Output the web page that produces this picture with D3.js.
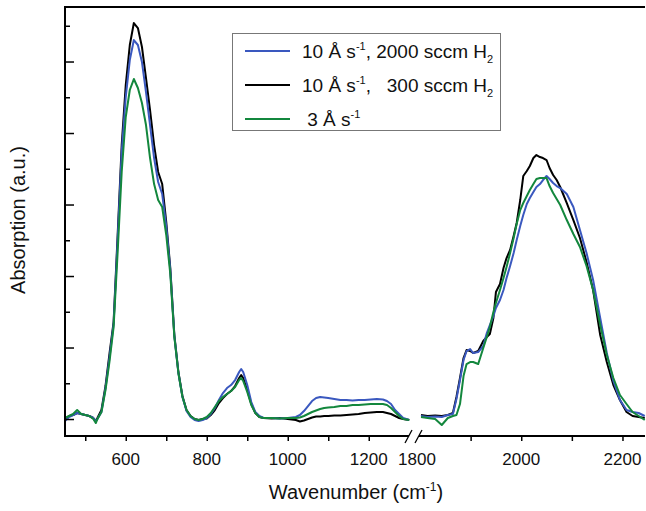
<!DOCTYPE html>
<html>
<head>
<meta charset="utf-8">
<script src="https://cdn.jsdelivr.net/npm/d3@7"></script>
<style>
  html, body { margin: 0; padding: 0; background: #fff; }
  svg { display: block; font-family: Arial, "Liberation Sans", sans-serif; }
  text { white-space: pre; }
</style>
</head>
<body>
<svg id="chart" width="646" height="511"></svg>
<script>
// Wavenumber grids (cm^-1) for the two segments of the broken axis
const wnLow = [450, 460, 470, 480, 490, 500, 510, 520, 526, 530, 540, 550, 560, 570, 580, 590, 600, 610, 620, 630,
  640, 650, 660, 670, 680, 690, 700, 710, 720, 730, 740, 750, 760, 770, 780, 790, 800, 810, 820, 830,
  840, 850, 860, 870, 880, 885, 890, 900, 910, 920, 930, 940, 960, 980, 1000, 1020, 1030, 1040, 1050, 1060,
  1070, 1080, 1090, 1100, 1115, 1130, 1145, 1160, 1175, 1190, 1205, 1220, 1235, 1245, 1255, 1265, 1275, 1285, 1300];

const wnHigh = [1802, 1815, 1830, 1843, 1855, 1865, 1872, 1879, 1886, 1892, 1899, 1905, 1915, 1925, 1932, 1938,
  1945, 1950, 1958, 1965, 1971, 1978, 1985, 1991, 1998, 2004, 2011, 2017, 2024, 2030, 2037, 2043, 2050, 2056,
  2063, 2070, 2077, 2090, 2103, 2116, 2129, 2142, 2156, 2169, 2182, 2195, 2208, 2220, 2232, 2244];

// Absorption, 10 Å/s with 2000 sccm H2
const blueLow = [-0.0056, 0.0056, 0.0112, 0.0168, 0.0140, 0.0112, 0.0084, 0.0028, -0.0056, 0, 0.0196, 0.0867, 0.1734, 0.2657, 0.5007, 0.7469, 0.9007, 1.0042, 1.0601, 1.0462,
  0.9986, 0.9147, 0.8224, 0.7301, 0.6629, 0.6294, 0.5399, 0.4168, 0.2322, 0.1287, 0.0615, 0.0224, 0.0056, -0.0028, -0.0056, -0.0028, 0.0028, 0.0140, 0.0308, 0.0531,
  0.0727, 0.0867, 0.0951, 0.1091, 0.1315, 0.1399, 0.1315, 0.0951, 0.0476, 0.0196, 0.0084, 0.0028, 0.0028, 0.0014, 0.0028, 0.0056, 0.0112, 0.0224, 0.0364, 0.0503,
  0.0587, 0.0615, 0.0601, 0.0587, 0.0559, 0.0531, 0.0531, 0.0517, 0.0531, 0.0531, 0.0545, 0.0559, 0.0545, 0.0503, 0.0420, 0.0252, 0.0140, 0.0028, -0.0028];
const blueHigh = [0.0084, 0.0056, 0.0070, 0.0056, 0.0112, 0.0140, 0.0559, 0.1091, 0.1650, 0.1902, 0.1958, 0.1846, 0.1874, 0.2042, 0.2406, 0.2629,
  0.2881, 0.3105, 0.3329, 0.3608, 0.3944, 0.4280, 0.4643, 0.5007, 0.5399, 0.5706, 0.6014, 0.6182, 0.6350, 0.6490, 0.6573, 0.6685, 0.6797, 0.6713,
  0.6601, 0.6517, 0.6462, 0.6294, 0.5930, 0.5287, 0.4643, 0.3888, 0.2825, 0.1846, 0.1063, 0.0531, 0.0252, 0.0196, 0.0168, 0.0084];

// Absorption, 10 Å/s with 300 sccm H2
const blackLow = [0, 0.0084, 0.0112, 0.0168, 0.0140, 0.0112, 0.0084, 0.0028, -0.0056, 0.0028, 0.0252, 0.0923, 0.1846, 0.2713, 0.5147, 0.7664, 0.9343, 1.0462, 1.1077, 1.0937,
  1.0406, 0.9538, 0.8643, 0.7664, 0.6909, 0.6573, 0.5510, 0.4224, 0.2350, 0.1315, 0.0643, 0.0252, 0.0084, 0, -0.0028, 0, 0.0014, 0.0112, 0.0252, 0.0448,
  0.0587, 0.0699, 0.0783, 0.0923, 0.1147, 0.1231, 0.1147, 0.0811, 0.0420, 0.0168, 0.0056, 0.0028, 0.0014, 0.0028, 0, -0.0028, -0.0070, -0.0042, 0, 0.0042,
  0.0070, 0.0070, 0.0084, 0.0084, 0.0098, 0.0098, 0.0112, 0.0126, 0.0140, 0.0168, 0.0182, 0.0196, 0.0196, 0.0168, 0.0140, 0.0084, 0.0028, 0, -0.0028];
const blackHigh = [0.0112, 0.0084, 0.0098, 0.0084, 0.0112, 0.0168, 0.0615, 0.1147, 0.1706, 0.1930, 0.1902, 0.1846, 0.1902, 0.2182, 0.2294, 0.2378,
  0.2825, 0.3552, 0.3776, 0.4224, 0.4503, 0.4727, 0.5119, 0.5483, 0.6126, 0.6797, 0.6937, 0.7077, 0.7301, 0.7385, 0.7329, 0.7301, 0.7245, 0.7021,
  0.6825, 0.6685, 0.6490, 0.6042, 0.5566, 0.5063, 0.4392, 0.3608, 0.2350, 0.1594, 0.0951, 0.0531, 0.0196, 0.0084, 0.0056, 0.0028];

// Absorption, 3 Å/s
const greenLow = [0.0028, 0.0084, 0.0140, 0.0252, 0.0140, 0.0112, 0.0084, 0, -0.0112, 0, 0.0196, 0.0811, 0.1622, 0.2573, 0.4671, 0.6909, 0.8448, 0.9203, 0.9510, 0.9259,
  0.8839, 0.8224, 0.7301, 0.6573, 0.6126, 0.5930, 0.5147, 0.4056, 0.2294, 0.1287, 0.0615, 0.0252, 0.0084, 0, -0.0028, 0, 0.0056, 0.0168, 0.0336, 0.0503,
  0.0615, 0.0699, 0.0783, 0.0895, 0.1091, 0.1147, 0.1063, 0.0755, 0.0392, 0.0168, 0.0056, 0.0028, 0.0028, 0.0014, 0.0028, 0.0028, 0.0042, 0.0084, 0.0140, 0.0196,
  0.0238, 0.0280, 0.0308, 0.0322, 0.0336, 0.0364, 0.0364, 0.0392, 0.0392, 0.0406, 0.0420, 0.0420, 0.0420, 0.0392, 0.0308, 0.0196, 0.0084, 0, -0.0028];
const greenHigh = [0.0056, 0.0028, 0, -0.0168, 0.0028, 0.0084, 0.0112, 0.0420, 0.1203, 0.1538, 0.1594, 0.1594, 0.1538, 0.1986, 0.2294, 0.2573,
  0.2993, 0.3245, 0.3608, 0.3944, 0.4252, 0.4643, 0.5063, 0.5455, 0.5846, 0.6042, 0.6238, 0.6406, 0.6573, 0.6713, 0.6741, 0.6741, 0.6741, 0.6517,
  0.6322, 0.6154, 0.5986, 0.5566, 0.5175, 0.4811, 0.4280, 0.3608, 0.2629, 0.1790, 0.1147, 0.0671, 0.0420, 0.0196, 0.0084, -0.0028];

// Axis tick values
const lowMajorTicks = [600, 800, 1000, 1200];
const lowMinorTicks = [500, 700, 900, 1100];
const highMajorTicks = [2000, 2200];
const highMinorTicks = [1900, 2100];
const breakLabel = 1800;
const yMajorTicks = [0, 0.2, 0.4, 0.6, 0.8, 1.0];
const yMinorTicks = [0.1, 0.3, 0.5, 0.7, 0.9, 1.1];

const seriesColors = { blue: "#3a58bf", black: "#000000", green: "#13873d" };

const svg = d3.select("#chart");
const font = 'Arial, "Liberation Sans", sans-serif';

const plotL = 65, plotR = 645, plotT = 7, plotB = 436;
const xLow = d3.scaleLinear().domain([450, 1300]).range([plotL, 409.25]);
const xHigh = d3.scaleLinear().domain([1800, 2244.5]).range([420, plotR]);
const y = d3.scaleLinear().domain([-0.0475, 1.1525]).range([plotB, plotT]);

// curves
const lineLow = d3.line().x(d => xLow(d[0])).y(d => y(d[1]));
const lineHigh = d3.line().x(d => xHigh(d[0])).y(d => y(d[1]));
const curves = {
  blue: [blueLow, blueHigh],
  black: [blackLow, blackHigh],
  green: [greenLow, greenHigh]
};
const drawOrder = ["black", "blue", "green"];
const gCurves = svg.append("g");
drawOrder.forEach(name => {
  const [lo, hi] = curves[name];
  gCurves.append("path")
    .datum(wnLow.map((w, i) => [w, lo[i]]))
    .attr("d", lineLow)
    .attr("fill", "none").attr("stroke", seriesColors[name])
    .attr("stroke-width", 2).attr("stroke-linejoin", "round");
  gCurves.append("path")
    .datum(wnHigh.map((w, i) => [w, hi[i]]))
    .attr("d", lineHigh)
    .attr("fill", "none").attr("stroke", seriesColors[name])
    .attr("stroke-width", 2).attr("stroke-linejoin", "round");
});

// frame: left axis line and top line
svg.append("line").attr("x1", plotL).attr("x2", plotL).attr("y1", plotT - 1).attr("y2", plotB + 1)
  .attr("stroke", "#000").attr("stroke-width", 2);
svg.append("line").attr("x1", plotL).attr("x2", plotR).attr("y1", plotT).attr("y2", plotT)
  .attr("stroke", "#000").attr("stroke-width", 2);

// y ticks (inward, no labels)
function yTicks(values, size) {
  const g = svg.append("g").attr("transform", `translate(${plotL},0)`)
    .call(d3.axisRight(y).tickValues(values).tickSize(size).tickFormat(""));
  g.select(".domain").remove();
  g.selectAll("line").attr("stroke", "#000").attr("stroke-width", 1.5);
}
yTicks(yMajorTicks, 9);
yTicks(yMinorTicks, 5);

// bottom axis, two segments
function xTicks(scale, values) {
  const g = svg.append("g").attr("transform", `translate(0,${plotB})`)
    .call(d3.axisBottom(scale).tickValues(values).tickSize(5).tickFormat(""));
  g.select(".domain").remove();
  g.selectAll("line").attr("stroke", "#000").attr("stroke-width", 1.5);
}
xTicks(xLow, lowMajorTicks.concat(lowMinorTicks));
xTicks(xHigh, highMajorTicks.concat(highMinorTicks));

svg.append("line").attr("x1", plotL).attr("x2", 409).attr("y1", plotB).attr("y2", plotB)
  .attr("stroke", "#000").attr("stroke-width", 2);
svg.append("line").attr("x1", 419).attr("x2", plotR).attr("y1", plotB).attr("y2", plotB)
  .attr("stroke", "#000").attr("stroke-width", 2);
// break marks
[[405, 412], [415, 422]].forEach(([a, b]) => {
  svg.append("line").attr("x1", a).attr("y1", plotB + 7).attr("x2", b).attr("y2", plotB - 6)
    .attr("stroke", "#000").attr("stroke-width", 1.3);
});

// tick labels
const labels = lowMajorTicks.map(v => [xLow(v), v])
  .concat([[xHigh(breakLabel) - 3, breakLabel]])
  .concat(highMajorTicks.map(v => [xHigh(v), v]));
svg.append("g").selectAll("text").data(labels).join("text")
  .attr("x", d => d[0]).attr("y", 465)
  .attr("text-anchor", "middle").attr("font-family", font).attr("font-size", 17)
  .attr("fill", "#111").text(d => d[1]);

// axis titles
const xt = svg.append("text").attr("x", 356).attr("y", 499).attr("text-anchor", "middle")
  .attr("font-family", font).attr("font-size", 20).attr("fill", "#111");
xt.append("tspan").text("Wavenumber (cm");
xt.append("tspan").attr("dy", -8).attr("font-size", 12).text("-1");
xt.append("tspan").attr("dy", 8).text(")");

svg.append("text").attr("transform", "translate(25,220) rotate(-90)")
  .attr("text-anchor", "middle").attr("font-family", font).attr("font-size", 20)
  .attr("fill", "#111").text("Absorption (a.u.)");

// legend
const legendRows = [
  { key: "blue", parts: ["10 Å s", "-1", ", 2000 sccm H", "2"] },
  { key: "black", parts: ["10 Å s", "-1", ",   300 sccm H", "2"] },
  { key: "green", parts: [" 3 Å s", "-1"] }
];
const lg = svg.append("g");
lg.append("rect").attr("x", 232.5).attr("y", 33.5).attr("width", 268).attr("height", 97)
  .attr("fill", "#fff").attr("stroke", "#777").attr("stroke-width", 1);
legendRows.forEach((r, i) => {
  const cy = 51 + i * 34;
  lg.append("line").attr("x1", 245).attr("x2", 290).attr("y1", cy).attr("y2", cy)
    .attr("stroke", seriesColors[r.key]).attr("stroke-width", 2);
  const t = lg.append("text").attr("x", 302).attr("y", cy + 7)
    .attr("font-family", font).attr("font-size", 19).attr("fill", "#111");
  t.append("tspan").text(r.parts[0]);
  t.append("tspan").attr("dy", -8).attr("font-size", 11).text(r.parts[1]);
  if (r.parts.length > 2) {
    t.append("tspan").attr("dy", 8).text(r.parts[2]);
    t.append("tspan").attr("dy", 5).attr("font-size", 11).text(r.parts[3]);
  }
});
</script>
</body>
</html>
